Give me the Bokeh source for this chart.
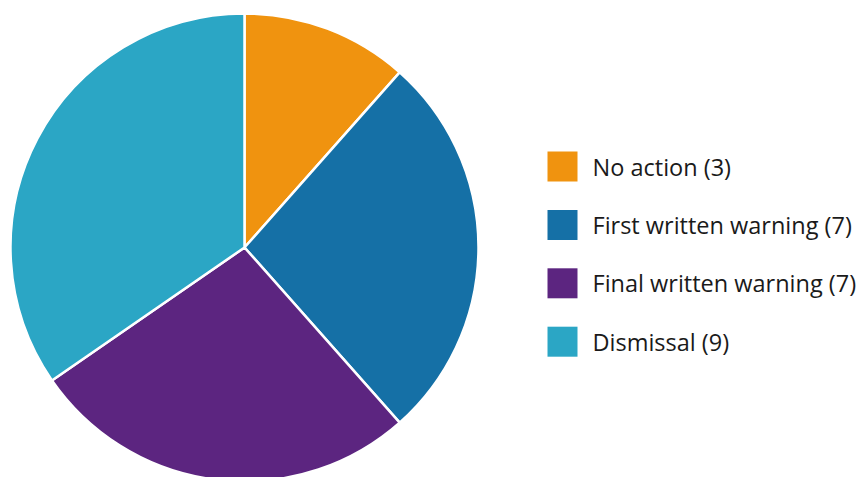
import math
from bokeh.plotting import figure
from bokeh.models import ColumnDataSource, Range1d
from bokeh.core.properties import value
from bokeh.embed import file_html
from bokeh.resources import INLINE

categories = ["No action", "First written warning", "Final written warning", "Dismissal"]
counts = [3, 7, 7, 9]
colors = ["#F0930F", "#1570A6", "#5C2580", "#2BA6C5"]

W, H = 859, 477
total = sum(counts)
starts, ends = [], []
cum = 0
for c in counts:
    a0 = math.pi / 2 - 2 * math.pi * cum / total
    cum += c
    a1 = math.pi / 2 - 2 * math.pi * cum / total
    starts.append(a0)
    ends.append(a1)

cx, cy, r = 244, H - 247, 234

p = figure(width=W, height=H, output_backend="svg", toolbar_location=None,
           x_range=Range1d(0, W), y_range=Range1d(0, H), min_border=0)
p.axis.visible = False
p.grid.visible = False
p.outline_line_color = None
p.background_fill_color = "white"
p.border_fill_color = "white"

src = ColumnDataSource(dict(start=starts, end=ends, color=colors))
p.wedge(x=cx, y=cy, radius=r, start_angle="start", end_angle="end", direction="clock",
        fill_color="color", line_color="white", line_width=2.5, source=src)

labels = [f"{c} ({n})" for c, n in zip(categories, counts)]
row_y = [H - (166 + 58.4 * i) for i in range(len(categories))]
leg = ColumnDataSource(dict(y=row_y, label=labels, color=colors))
p.rect(x=562, y="y", width=30, height=30, fill_color="color", line_color=None, source=leg)
p.text(x=592, y="y", text="label", text_font=value("Open Sans"), text_font_size="23.5px",
       text_baseline="middle", text_color="#1a1a1a", source=leg)

open("out.html", "w").write(file_html(p, INLINE))
